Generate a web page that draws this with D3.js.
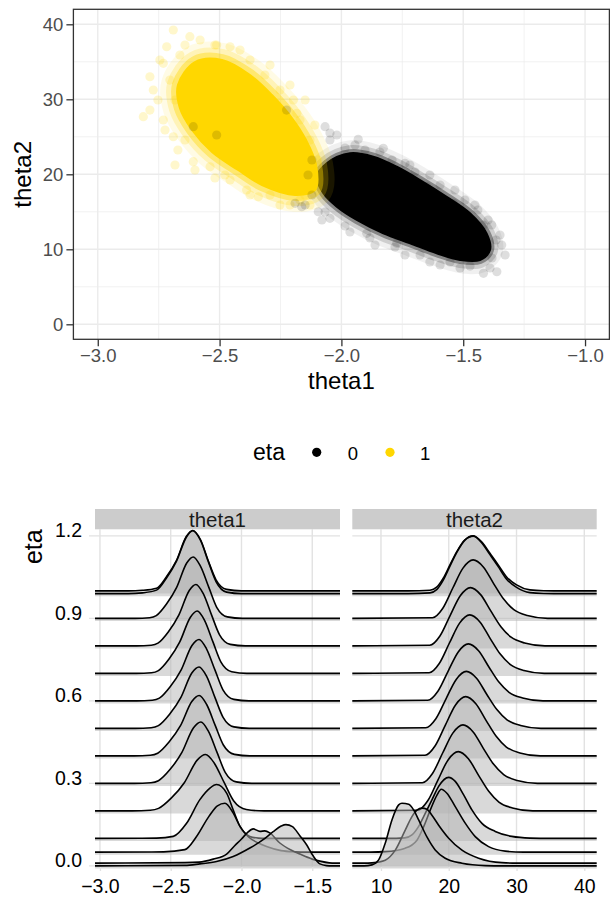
<!DOCTYPE html>
<html>
<head>
<meta charset="utf-8">
<script src="https://cdn.jsdelivr.net/npm/d3@7"></script>
<style>
  body { margin: 0; background: #fff; }
  svg { display: block; }
  text { font-family: "Liberation Sans", Arial, Helvetica, sans-serif; }
</style>
</head>
<body>
<svg id="chart" width="610" height="897"></svg>
<script>
// ---------------- data ----------------
// scatter: axis ticks
const theta1Ticks = [-3.0, -2.5, -2.0, -1.5, -1.0];
const theta2Ticks = [0, 10, 20, 30, 40];
const etaGroups = ["0", "1"];
const etaColors = ["#000000", "#FFD700"];

// outline of the dense part of each posterior cloud (theta1, theta2)
const coreEta0 = [[-2.060,21.47],[-1.965,22.8],[-1.869,22.35],[-1.773,21.01],[-1.677,19.24],[-1.568,17.01],[-1.472,14.8],[-1.404,12.13],[-1.390,9.91],[-1.431,8.57],[-1.513,8.57],[-1.609,9.47],[-1.718,10.8],[-1.828,12.13],[-1.937,13.91],[-2.019,15.68],[-2.074,17.47],[-2.101,19.68]];
const coreEta1 = [[-2.671,31.91],[-2.601,34.97],[-2.490,35.24],[-2.375,33.24],[-2.285,30.57],[-2.203,27.51],[-2.145,24.57],[-2.104,21.24],[-2.108,17.91],[-2.190,17.24],[-2.326,18.57],[-2.424,20.57],[-2.531,22.97],[-2.613,25.91],[-2.663,28.84]];

// individual draws at the edges of each cloud (theta1, theta2)
const scatterEta0 = [[-2.067,26.35],[-2.019,25.24],[-1.931,24.67],[-1.828,23.47],[-1.739,21.47],[-1.650,18.35],[-1.541,16.13],[-1.417,13.24],[-1.342,10.57],[-1.362,7.01],[-1.417,6.8],[-1.595,7.91],[-1.773,10.8],[-1.896,12.13],[-2.047,14.13],[-2.095,15.01],[-2.163,15.68],[-2.190,16.13],[-2.047,25.51],[-2.225,28.57],[-2.608,26.35],[-2.512,25.24],[-1.985,23.5],[-1.903,23.24],[-1.792,21.91],[-1.698,20.31],[-1.595,18.57],[-1.493,16.57],[-1.44,15.24],[-1.383,13.24],[-1.365,11.24],[-1.382,8.84],[-1.472,7.77],[-1.554,8.31],[-1.677,9.24],[-1.78,10.31],[-1.883,11.51],[-1.985,13.11],[-2.067,14.97],[-2.121,17.24],[-2.137,19.91],[-2.121,21.91],
  [-2.047,24.57],[-1.944,23.91],[-1.842,22.97],[-1.719,21.24],[-1.637,19.91],[-1.534,17.91],[-1.452,15.91],[-1.398,13.91],[-1.349,11.91],[-1.328,9.24],[-1.39,7.51],[-1.513,7.51],[-1.637,8.31],[-1.739,9.24],[-1.862,10.57],[-1.965,12.31],[-2.08,13.91],[-2.149,15.91]];
const scatterEta1 = [[-2.690,39.24],[-2.813,27.68],[-2.786,33.01],[-2.622,38.35],[-2.580,37.91],[-2.717,37.01],[-2.731,34.8],[-2.772,31.24],[-2.731,27.24],[-2.690,25.01],[-2.608,21.68],[-2.539,21.01],[-2.389,17.91],[-2.341,17.01],[-2.457,37.01],[-2.512,37.24],[-2.197,29.91],[-2.183,28.13],[-2.663,35.91],[-2.683,29.91],[-2.642,24.57],[-2.478,19.91],[-2.293,17.24],[-2.17,16.57],[-2.15,17.24],[-2.211,15.91],[-2.375,35.24],[-2.314,33.24],[-2.252,31.24],[-2.170,27.24],[-2.129,24.57],[-2.096,21.91],
  [-2.745,35.24],[-2.704,32.57],[-2.753,29.91],[-2.724,25.91],[-2.671,23.24],[-2.601,20.57],[-2.457,19.24],[-2.252,15.91],[-2.129,15.91],[-2.416,36.57],[-2.293,34.57],[-2.211,31.91],[-2.149,29.91],[-2.109,26.57],[-2.642,37.24],[-2.519,37.24],[-2.786,28.57],[-2.683,21.24],[-2.519,19.51],[-2.375,17.24]];

// ridgelines: one density per eta level, given as [value, relative density]
const ridgeEta = [0, 0.01, 0.05, 0.1, 0.2, 0.3, 0.4, 0.5, 0.6, 0.7, 0.8, 0.9, 0.99, 1];
const ridgeTicksY = [0.0, 0.3, 0.6, 0.9, 1.2];
const ridgeTicksT1 = [-3.0, -2.5, -2.0, -1.5];
const ridgeTicksT2 = [10, 20, 30, 40];

const densTheta1 = [
  [[-2.40,0.5],[-2.294,2],[-2.176,4.3],[-2.059,9.3],[-1.941,17.7],[-1.847,26],[-1.776,34],[-1.72,39.5],[-1.686,41],[-1.64,39],[-1.588,30],[-1.54,21],[-1.494,10],[-1.446,2],[-1.40,0.3],[-1.36,0]],
  [[-2.40,0.5],[-2.30,1],[-2.20,4],[-2.105,9],[-2.05,17],[-2.00,24],[-1.96,30],[-1.917,34],[-1.87,31.5],[-1.835,32],[-1.80,30],[-1.729,20],[-1.65,13],[-1.588,9],[-1.50,4],[-1.446,2],[-1.38,0.3],[-1.34,0]],
  [[-2.55,0.3],[-2.40,2.5],[-2.32,15],[-2.23,35.5],[-2.17,46],[-2.117,48.5],[-2.059,39],[-2.011,25.5],[-1.95,15],[-1.88,9],[-1.823,5.5],[-1.72,1.5],[-1.62,0.3],[-1.55,0]],
  [[-2.60,0.3],[-2.482,2],[-2.388,15],[-2.294,38.5],[-2.223,50],[-2.176,53.5],[-2.105,45],[-2.059,28.5],[-2.011,12],[-1.941,2],[-1.88,0.3],[-1.83,0]],
  [[-2.774,0],[-2.644,0.6],[-2.586,2.5],[-2.495,12.9],[-2.404,28],[-2.313,50.4],[-2.254,56],[-2.193,47.6],[-2.122,28],[-2.056,10.1],[-1.966,1.4],[-1.84,0]],
  [[-2.757,0],[-2.64,0.6],[-2.587,2.7],[-2.504,14],[-2.422,30.5],[-2.34,55],[-2.287,61],[-2.234,51.9],[-2.172,30.5],[-2.115,11],[-2.037,1.5],[-1.928,0]],
  [[-2.759,0],[-2.644,0.6],[-2.592,2.7],[-2.512,13.8],[-2.431,30],[-2.351,54],[-2.299,60],[-2.246,51],[-2.185,30],[-2.128,10.8],[-2.05,1.5],[-1.942,0]],
  [[-2.75,0],[-2.638,0.6],[-2.587,2.7],[-2.508,14],[-2.429,30.5],[-2.351,55],[-2.30,61],[-2.247,51.9],[-2.187,30.5],[-2.13,11],[-2.053,1.5],[-1.945,0]],
  [[-2.74,0],[-2.63,0.6],[-2.58,2.7],[-2.504,14],[-2.427,30.5],[-2.35,55],[-2.30,61],[-2.248,51.9],[-2.187,30.5],[-2.131,11],[-2.054,1.5],[-1.947,0]],
  [[-2.743,0],[-2.636,0.6],[-2.587,2.8],[-2.512,14.3],[-2.437,31],[-2.361,55.8],[-2.313,62],[-2.261,52.7],[-2.201,31],[-2.145,11.2],[-2.069,1.6],[-1.962,0]],
  [[-2.742,0],[-2.637,0.6],[-2.590,2.7],[-2.516,14],[-2.443,30.5],[-2.369,55],[-2.322,61],[-2.270,51.9],[-2.211,30.5],[-2.155,11],[-2.079,1.5],[-1.973,0]],
  [[-2.751,0],[-2.649,0.6],[-2.602,2.7],[-2.531,14],[-2.459,30.5],[-2.387,55],[-2.341,61],[-2.290,51.9],[-2.230,30.5],[-2.175,11],[-2.100,1.5],[-1.994,0]],
  [[-2.80,0],[-2.70,0.8],[-2.60,3.5],[-2.53,15.5],[-2.46,32],[-2.39,56],[-2.345,62.5],[-2.29,53],[-2.235,32],[-2.18,12],[-2.105,1.5],[-2.0,0]],
  [[-2.80,0],[-2.70,0.6],[-2.60,2.7],[-2.53,14],[-2.46,30],[-2.39,54],[-2.345,60],[-2.29,51],[-2.235,30],[-2.18,11],[-2.105,1.5],[-2.0,0]]
];

const densTheta2 = [
  [[7.5,0],[8.67,1],[9.66,6],[10.63,22.7],[11.62,46],[12.61,61],[13.1,62.7],[14.09,61.7],[14.82,56],[15.56,46],[16.78,29],[18.0,16],[19.48,7.7],[21.95,2.7],[25.4,0.3],[28,0]],
  [[7.5,0],[8.67,0.3],[10.63,3],[12.11,13],[13.58,33],[14.57,46.5],[15.31,53],[16.05,55],[16.78,54],[17.52,48],[18.51,38],[19.99,25],[21.95,13],[24.41,5],[27.85,0.5],[30,0]],
  [[8.5,0],[10.63,0.5],[13.58,4],[15.31,12],[16.3,25.5],[17.27,42],[18.26,57],[18.89,63],[19.73,59],[20.96,45.5],[22.43,29],[23.91,15.5],[25.88,5.5],[28.33,1],[31,0]],
  [[11,0],[13.5,0.5],[14.57,3.5],[15.56,12],[16.53,25],[17.52,38.5],[18.51,52],[19.99,61],[20.96,57],[22.2,43.5],[23.42,28.5],[24.9,15],[26.86,7],[29.3,2],[32,0.3],[35,0]],
  [[15.4,0.6],[16.9,10.1],[18.4,30.8],[19.9,51],[21.4,59.3],[22.9,52.2],[24.4,35.6],[25.9,19.6],[27.4,8.9],[29.4,3],[32.4,0]],
  [[16.1,0.6],[17.6,9.9],[19.1,30.4],[20.6,50.3],[22.1,58.5],[23.6,51.5],[25.1,35.1],[26.6,19.3],[28.1,8.8],[30.1,2.9],[33.1,0]],
  [[16.5,0.6],[18.0,10.1],[19.5,30.8],[21.0,51],[22.5,59.3],[24.0,52.2],[25.5,35.6],[27.0,19.6],[28.5,8.9],[30.5,3],[33.5,0]],
  [[16.6,0.6],[18.1,9.7],[19.6,29.6],[21.1,49],[22.6,57],[24.1,50.2],[25.6,34.2],[27.1,18.8],[28.6,8.6],[30.6,2.9],[33.6,0]],
  [[16.9,0.6],[18.4,9.7],[19.9,29.6],[21.4,49],[22.9,57],[24.4,50.2],[25.9,34.2],[27.4,18.8],[28.9,8.6],[30.9,2.9],[33.9,0]],
  [[17.1,0.6],[18.6,9.9],[20.1,30.4],[21.6,50.3],[23.1,58.5],[24.6,51.5],[26.1,35.1],[27.6,19.3],[29.1,8.8],[31.1,2.9],[34.1,0]],
  [[17.2,0.6],[18.7,9.9],[20.2,30.3],[21.7,50.1],[23.2,58.3],[24.7,51.3],[26.2,35],[27.7,19.2],[29.2,8.7],[31.2,2.9],[34.2,0]],
  [[17.6,0.6],[19.1,9.9],[20.6,30.4],[22.1,50.3],[23.6,58.5],[25.1,51.5],[26.6,35.1],[28.1,19.3],[29.6,8.8],[31.6,2.9],[34.6,0]],
  [[14,0],[17.23,0.8],[18.22,4],[19.19,13.5],[20.18,27.5],[21.17,41],[22.39,53.5],[23.61,57.5],[24.85,51],[26.08,39],[27.3,27],[28.54,14.5],[30.01,6.2],[31.98,1],[34,0.2],[37,0]],
  [[14,0],[17.23,0.7],[18.22,3.7],[19.19,12.7],[20.18,26],[21.17,39],[22.39,51],[23.61,55],[24.85,49],[26.08,37.7],[27.3,26],[28.54,14],[30.01,6],[31.98,1],[34,0.2],[37,0]]
];

// ---------------- drawing ----------------
const svg = d3.select("#chart");
const fmt1 = d3.format(".1f");

// ===== scatter of the two parameters =====
const P = { left: 73.4, right: 609.4, top: 9.3, bottom: 339.3 };
const x = d3.scaleLinear().domain([-3.1, -0.9]).range([P.left, P.right]);
const y = d3.scaleLinear().domain([-2, 42]).range([P.bottom, P.top]);

const scatterG = svg.append("g");
scatterG.append("rect").attr("x", P.left).attr("y", P.top)
  .attr("width", P.right - P.left).attr("height", P.bottom - P.top).attr("fill", "#fff");

const minorX = d3.pairs(theta1Ticks).map(([a, b]) => (a + b) / 2);
const minorY = d3.pairs(theta2Ticks).map(([a, b]) => (a + b) / 2);
const grid = scatterG.append("g");
grid.selectAll("line.mx").data(minorX).join("line")
  .attr("x1", d => x(d)).attr("x2", d => x(d)).attr("y1", P.top).attr("y2", P.bottom)
  .attr("stroke", "#ebebeb").attr("stroke-width", 0.7);
grid.selectAll("line.my").data(minorY).join("line")
  .attr("y1", d => y(d)).attr("y2", d => y(d)).attr("x1", P.left).attr("x2", P.right)
  .attr("stroke", "#ebebeb").attr("stroke-width", 0.7);
grid.selectAll("line.gx").data(theta1Ticks).join("line")
  .attr("x1", d => x(d)).attr("x2", d => x(d)).attr("y1", P.top).attr("y2", P.bottom)
  .attr("stroke", "#ebebeb").attr("stroke-width", 1.4);
grid.selectAll("line.gy").data(theta2Ticks).join("line")
  .attr("y1", d => y(d)).attr("y2", d => y(d)).attr("x1", P.left).attr("x2", P.right)
  .attr("stroke", "#ebebeb").attr("stroke-width", 1.4);

svg.append("defs").append("clipPath").attr("id", "panelClip")
  .append("rect").attr("x", P.left).attr("y", P.top)
  .attr("width", P.right - P.left).attr("height", P.bottom - P.top);

const cloud = scatterG.append("g").attr("clip-path", "url(#panelClip)");
const outline = d3.line().x(d => x(d[0])).y(d => y(d[1])).curve(d3.curveCatmullRomClosed.alpha(0.5));

// dense core with a stepped translucent rim
function drawCore(pts, color, rims) {
  const gC = cloud.append("g");
  rims.forEach(([w, op]) => {
    gC.append("path").attr("d", outline(pts)).attr("fill", "none")
      .attr("stroke", color).attr("stroke-opacity", op).attr("stroke-width", w)
      .attr("stroke-linejoin", "round");
  });
  gC.append("path").attr("d", outline(pts)).attr("fill", color)
    .attr("stroke", color).attr("stroke-width", 2).attr("stroke-linejoin", "round");
}
drawCore(coreEta0, etaColors[0], [[26, 0.06], [16, 0.14], [8, 0.35]]);
drawCore(coreEta1, etaColors[1], [[34, 0.1], [22, 0.2], [12, 0.4]]);

cloud.append("g").selectAll("circle").data(scatterEta1).join("circle")
  .attr("cx", d => x(d[0])).attr("cy", d => y(d[1])).attr("r", 4.6)
  .attr("fill", etaColors[1]).attr("fill-opacity", 0.2);
cloud.append("g").selectAll("circle").data(scatterEta0).join("circle")
  .attr("cx", d => x(d[0])).attr("cy", d => y(d[1])).attr("r", 4.6)
  .attr("fill", etaColors[0]).attr("fill-opacity", 0.13);

scatterG.append("rect").attr("x", P.left).attr("y", P.top)
  .attr("width", P.right - P.left).attr("height", P.bottom - P.top)
  .attr("fill", "none").attr("stroke", "#333333").attr("stroke-width", 1.3);

function styleAxis(g, color, size, tickColor) {
  g.select(".domain").remove();
  g.selectAll(".tick line").attr("stroke", tickColor).attr("stroke-width", 1.3);
  g.selectAll(".tick text").attr("fill", color).attr("font-size", size)
    .attr("font-family", '"Liberation Sans", Arial, sans-serif');
}
scatterG.append("g").attr("transform", `translate(0,${P.bottom})`)
  .call(d3.axisBottom(x).tickValues(theta1Ticks).tickFormat(fmt1).tickSize(7).tickPadding(3))
  .call(g => styleAxis(g, "#4d4d4d", 18.5, "#333333"));
scatterG.append("g").attr("transform", `translate(${P.left},0)`)
  .call(d3.axisLeft(y).tickValues(theta2Ticks).tickSize(7).tickPadding(3))
  .call(g => styleAxis(g, "#4d4d4d", 18.5, "#333333"));

scatterG.append("text").attr("x", (P.left + P.right) / 2).attr("y", 389)
  .attr("text-anchor", "middle").attr("font-size", 24).attr("fill", "#000").text("theta1");
scatterG.append("text").attr("transform", `translate(31,${(P.top + P.bottom) / 2}) rotate(-90)`)
  .attr("text-anchor", "middle").attr("font-size", 24).attr("fill", "#000").text("theta2");

// ===== legend =====
const leg = svg.append("g");
leg.append("text").attr("x", 253).attr("y", 460.3).attr("font-size", 23).text("eta");
const legX = [316.7, 390];
const legTextX = [347.7, 420];
etaGroups.forEach((gName, i) => {
  leg.append("circle").attr("cx", legX[i]).attr("cy", 452.3).attr("r", 4.6).attr("fill", etaColors[i]);
  leg.append("text").attr("x", legTextX[i]).attr("y", 460.3).attr("font-size", 18.5).text(gName);
});

// ===== ridgelines =====
const ry = d3.scaleLinear().domain([-0.004, 1.224]).range([867, 529.3]);
const ridgeMax = 0.229;   // tallest ridge, in eta units
const band = 2.5;

function ridgePanel(dens, xDomain, xRange, ticks, tickFmt, stripLabel, withYAxis) {
  const xs = d3.scaleLinear().domain(xDomain).range(xRange);
  const gp = svg.append("g");
  const yTop = ry.range()[1], yBot = ry.range()[0];

  gp.selectAll("line.v").data(ticks).join("line")
    .attr("x1", d => xs(d)).attr("x2", d => xs(d)).attr("y1", yTop).attr("y2", yBot)
    .attr("stroke", "#e2e2e2").attr("stroke-width", 1.4);
  gp.selectAll("line.h").data(ridgeTicksY).join("line")
    .attr("x1", xRange[0] - (withYAxis ? 6 : 0)).attr("x2", xRange[1])
    .attr("y1", d => ry(d)).attr("y2", d => ry(d))
    .attr("stroke", "#e2e2e2").attr("stroke-width", 1.4);

  // strip
  gp.append("rect").attr("x", xRange[0]).attr("y", 509)
    .attr("width", xRange[1] - xRange[0]).attr("height", yTop - 509).attr("fill", "#cccccc");
  gp.append("text").attr("x", (xRange[0] + xRange[1]) / 2).attr("y", 526.5)
    .attr("text-anchor", "middle").attr("font-size", 20.5).attr("fill", "#1a1a1a").text(stripLabel);

  const maxH = d3.max(dens, r => d3.max(r, p => p[1]));
  const hPx = ry(0) - ry(ridgeMax);
  const ridges = gp.append("g");
  for (let i = dens.length - 1; i >= 0; i--) {
    const pts = [[xDomain[0], 0], ...dens[i], [xDomain[1], 0]];
    const base = ry(ridgeEta[i]);
    const crest = d => base - d[1] / maxH * hPx;
    ridges.append("path")
      .attr("d", d3.area().x(d => xs(d[0])).y0(base + band).y1(crest).curve(d3.curveMonotoneX)(pts))
      .attr("fill", "#b3b3b3").attr("fill-opacity", 0.5);
    ridges.append("path")
      .attr("d", d3.line().x(d => xs(d[0])).y(crest).curve(d3.curveMonotoneX)(pts))
      .attr("fill", "none").attr("stroke", "#000").attr("stroke-width", 1.6);
  }

  gp.append("g").attr("transform", `translate(0,${yBot})`)
    .call(d3.axisBottom(xs).tickValues(ticks).tickFormat(tickFmt).tickSize(4).tickPadding(8))
    .call(g => styleAxis(g, "#000", 19.5, "#e2e2e2"));

  if (withYAxis) {
    const ya = gp.append("g").attr("transform", `translate(${xRange[0]},0)`)
      .call(d3.axisLeft(ry).tickValues(ridgeTicksY).tickFormat(fmt1).tickSize(0).tickPadding(13));
    styleAxis(ya, "#000", 19.5, "#e2e2e2");
    ya.selectAll(".tick text").attr("dy", "0.05em");
    gp.append("text").attr("transform", `translate(41.5,${yTop}) rotate(-90)`)
      .attr("text-anchor", "end").attr("font-size", 25).attr("fill", "#000").text("eta");
  }
}

ridgePanel(densTheta1, [-3.035, -1.304], [95, 340], ridgeTicksT1, fmt1, "theta1", true);
ridgePanel(densTheta2, [5.77, 41.83], [352.3, 596.7], ridgeTicksT2, d3.format("d"), "theta2", false);
</script>
</body>
</html>
